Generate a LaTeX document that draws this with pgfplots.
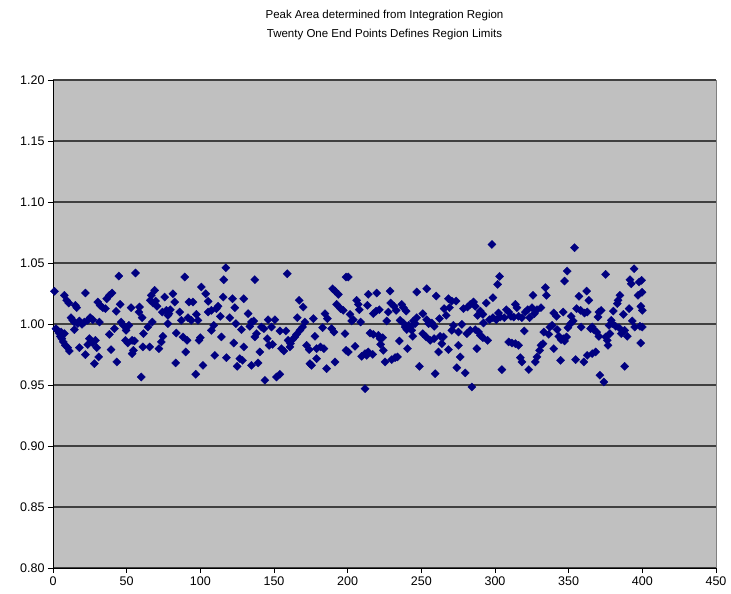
\documentclass[border=0pt]{standalone}
\usepackage{pgfplots}
\pgfplotsset{compat=1.18}
\usepackage{fontspec}
\setmainfont{Liberation Sans}
\definecolor{plotgray}{HTML}{C0C0C0}
\definecolor{navy}{HTML}{000080}
\begin{document}
\begin{tikzpicture}
\begin{axis}[
  at={(0pt,0pt)}, anchor=south west,
  scale only axis, width=663pt, height=488pt,
  xmin=0, xmax=450, ymin=0.8, ymax=1.2,
  xtick={0,50,...,450}, ytick={0.80,0.85,...,1.21},
  axis background/.style={fill=plotgray, draw=gray},
  axis x line*=bottom, axis y line*=left,
  axis line style={black, line width=0.8pt},
  tick align=outside, major tick length=5pt,
  tick style={black, line width=0.8pt},
  ymajorgrids, major grid style={black!75, line width=1.1pt},
  ticklabel style={font=\fontsize{12.5}{15}\selectfont},
  /pgf/number format/assume math mode=true,
  yticklabel style={/pgf/number format/.cd, fixed, fixed zerofill, precision=2},
  xticklabel style={/pgf/number format/.cd, fixed, precision=0},
  clip=false,
]
\addplot[only marks, mark=square*, mark size=2.9pt, color=navy, mark options={fill=navy, draw=navy, rotate=45, line width=0.3pt}] coordinates {
(1,1.0268)(2,0.9962)(3,0.9948)(4,0.9926)(5,0.9899)(6,0.9880)(7,0.9853)(8.4,0.9825)(10,0.9806)(11.1,0.9779)(5.5,0.9934)(7.7,0.9921)(7.7,1.0235)(9.3,1.0194)(10.7,1.0172)(15.2,1.0153)(16.1,1.0134)(12.2,1.0052)(13.4,1.0030)(14.5,1.0016)(16.8,1.0003)(17.9,1.0025)(19.7,0.9997)(21.3,1.0016)(23.6,1.0030)(25.2,1.0052)(27,1.0035)(14.5,0.9954)(22,1.0254)(17.9,0.9806)(22,0.9749)(23.6,0.9831)(24.7,0.9880)(27,0.9844)(28.8,0.9866)(29.7,0.9806)(28.1,0.9675)(31,0.9730)(31.5,1.0016)(30.4,1.0180)(32,1.0153)(33.8,1.0134)(35.6,1.0126)(36.5,1.0207)(38.3,1.0235)(40.1,1.0254)(44.7,1.0393)(56,1.0418)(42.9,1.0104)(45.6,1.0161)(38.3,0.9915)(39.4,0.9790)(43.3,0.9689)(41.7,0.9962)(46.2,1.0016)(47.8,0.9989)(49.6,0.9948)(51.5,0.9989)(49.2,0.9866)(50.8,0.9844)(53.7,0.9866)(55.3,0.9861)(53,1.0134)(58.7,1.0139)(58.3,1.0098)(60.5,1.0052)(54.6,0.9784)(53.7,0.9757)(61,0.9812)(61.4,0.9921)(59.9,0.9566)
(66.7,1.0235)(69,1.0276)(66,1.0194)(67.8,1.0172)(70.6,1.0145)(69.6,1.0188)(75.8,1.0221)(81.4,1.0248)(82.6,1.0180)(74.2,1.0098)(76.9,1.0112)(78.7,1.0085)(79.6,1.0117)(78,1.0071)(86,1.0098)(87.1,1.0030)(91.6,1.0052)(93.9,1.0030)(97.3,1.0079)(98.4,1.0030)(89.4,1.0385)(100.7,1.0303)(103.7,1.0248)(105.3,1.0186)(92.3,1.0180)(95,1.0180)(105.3,1.0098)(107.5,1.0112)(112,1.0145)(110.9,1.0126)(115.5,1.0221)(113.6,1.0063)(120,1.0052)(121.8,1.0207)(123.4,1.0134)(124.1,1.0003)(129.5,1.0207)(127.9,0.9954)(65.6,0.9812)(71.9,0.9798)(73.5,0.9853)(74.6,0.9899)(78,1.0003)(67.4,1.0016)(83.7,0.9926)(88.2,0.9894)(91,0.9866)(90.1,0.9771)(83.3,0.9681)(99.1,0.9866)(100,0.9888)(96.9,0.9588)(101.8,0.9661)(107.5,0.9948)(109.1,0.9989)(109.8,0.9743)(114.3,0.9894)(117.3,1.0461)(115.9,1.0363)(117.7,0.9724)(122.7,0.9844)(126.8,0.9716)(129.5,0.9812)(125,0.9653)(128.6,0.9702)(64.4,0.9975)
(137,1.0363)(159,1.0412)(132.4,1.0085)(134.7,1.0016)(133.6,0.9981)(136.3,1.0025)(141.5,0.9975)(143.1,0.9962)(146,1.0035)(150.6,1.0035)(148.3,0.9975)(138.1,0.9921)(137,0.9894)(145.4,0.9880)(146.7,0.9825)(149,0.9833)(140.4,0.9771)(134.7,0.9661)(139.2,0.9681)(143.8,0.9539)(151.7,0.9566)(154,0.9588)(154,0.9943)(158.1,0.9943)(155.1,0.9798)(156.7,0.9779)(161.2,0.9839)(162.6,0.9872)(164.2,0.9894)(165.3,0.9915)(167.6,0.9948)(169.4,0.9975)(171,1.0016)(159.6,0.9866)(160.8,0.9812)(165.8,1.0052)(167.1,1.0194)(169.8,1.0139)(172.1,0.9825)(173.9,0.9790)(177.8,0.9899)(176.7,1.0044)(178.9,0.9798)(181.6,0.9812)(183.9,0.9798)(183,0.9970)(184.6,1.0085)(186.2,1.0044)(189.1,0.9962)(190.7,0.9934)(189.8,1.0289)(191.4,1.0270)(193.7,1.0243)(192.5,1.0161)(195.2,1.0126)(197,1.0112)(198.9,1.0385)(198.2,0.9921)(198.9,0.9784)(174.4,0.9675)(175.5,0.9661)(178.9,0.9716)(185.7,0.9634)(191.4,0.9689)
(200.4,1.0385)(201.6,1.0079)(202.7,1.0025)(203.8,1.0035)(206.1,1.0194)(207.2,1.0161)(207.9,1.0117)(208.8,1.0016)(205,0.9817)(200.4,0.9771)(214,1.0243)(219.7,1.0254)(213.4,1.0153)(217.4,1.0085)(219.3,1.0106)(221.5,1.0117)(228.8,1.0270)(229.2,1.0172)(231.5,1.0145)(232.9,1.0112)(236.7,1.0161)(237.8,1.0134)(239.7,1.0106)(227.6,1.0098)(226.5,1.0025)(209.5,0.9735)(211.8,0.9757)(214,0.9771)(217,0.9751)(212.9,0.9743)(215.2,0.9926)(217.4,0.9915)(220.8,0.9907)(222,0.9880)(223.8,0.9888)(222.4,0.9833)(224.2,0.9784)(225.4,0.9689)(229.9,0.9708)(232.2,0.9724)(233.8,0.9730)(235.1,0.9861)(240.6,0.9798)(235.6,1.0030)(237.8,1.0008)(239,0.9975)(240.1,0.9954)(241.3,0.9989)(242.4,0.9975)(243.5,0.9948)(244.6,1.0025)(246.9,1.0052)(245.8,1.0003)(244.2,0.9899)(246.9,1.0262)(253.7,1.0289)(260.1,1.0229)(251,1.0085)(253.7,1.0035)(254.9,1.0003)(257.1,1.0008)(258.7,0.9981)(262.3,1.0044)(265.5,1.0126)(266.9,1.0071)(251,0.9921)(253.3,0.9894)(256,0.9866)(258.7,0.9880)(262.8,0.9899)(265,0.9894)(263.9,0.9839)(261.7,0.9771)(248.7,0.9653)(259.4,0.9593)(211.8,0.9470)
(297.9,1.0652)(303.1,1.0390)(301.8,1.0325)(298.6,1.0216)(294.1,1.0172)(290,1.0106)(291.8,1.0079)(288.2,1.0071)(268.4,1.0207)(270.7,1.0188)(273.6,1.0188)(269.1,1.0134)(278.6,1.0126)(281.4,1.0139)(283.2,1.0161)(285.4,1.0180)(286.6,1.0145)(271.8,0.9989)(270.7,0.9948)(277.5,0.9997)(275.2,0.9934)(280.9,0.9921)(283.2,0.9948)(286.6,0.9954)(288.8,0.9934)(290,0.9907)(291.8,0.9888)(295,0.9866)(292.2,1.0008)(296.3,1.0035)(298.6,1.0052)(300.9,1.0035)(302.4,1.0090)(303.6,1.0057)(306.3,1.0052)(307.7,1.0117)(309.3,1.0098)(310.8,1.0063)(312.7,1.0057)(313.8,1.0161)(314.9,1.0134)(316,1.0063)(318.3,1.0052)(320.6,1.0098)(322.2,1.0117)(323.5,1.0052)(325.1,1.0134)(325.8,1.0235)(326.7,1.0085)(328.5,1.0117)(331.2,1.0134)(334.2,1.0298)(334.9,1.0235)(319.9,0.9943)(333.1,0.9934)(268.4,0.9790)(275.2,0.9825)(287.7,0.9798)(276.4,0.9730)(274.1,0.9642)(279.8,0.9599)(284.3,0.9484)(304.7,0.9626)(309.3,0.9853)(311.5,0.9844)(313.8,0.9839)(316,0.9825)(317.2,0.9724)(318.3,0.9689)(322.9,0.9626)(327.4,0.9689)(328.5,0.9730)(330.3,0.9784)(331.2,0.9825)(332.6,0.9839)
(354,1.0625)(349,1.0434)(347.2,1.0352)(357,1.0227)(362.2,1.0270)(363.7,1.0194)(339.9,1.0090)(341.7,1.0063)(346.3,1.0098)(351.7,1.0063)(355.4,1.0126)(358.1,1.0112)(360.8,1.0090)(362.6,1.0098)(370.5,1.0098)(372.1,1.0112)(369.9,1.0057)(380.3,1.0106)(383.5,1.0194)(384.8,1.0235)(383,1.0167)(387.1,1.0079)(391,1.0126)(375.1,1.0407)(394.4,1.0453)(391.6,1.0363)(392.5,1.0330)(397.8,1.0344)(399.5,1.0358)(399.8,1.0260)(397.1,1.0235)(399,1.0145)(400,1.0112)(337.2,0.9975)(338.8,0.9989)(336.5,0.9915)(342.2,0.9954)(349.5,0.9970)(351.3,1.0003)(353.1,1.0025)(358.5,0.9975)(364.9,0.9962)(367.1,0.9954)(369,0.9934)(370.5,0.9899)(366,0.9975)(377.4,0.9989)(379.6,1.0003)(378.9,1.0030)(381.9,0.9981)(384.2,0.9970)(385.7,0.9921)(388,0.9948)(389.8,0.9899)(393.2,1.0025)(394.8,0.9975)(398.4,0.9981)(400,0.9975)(343.3,0.9899)(344.9,0.9872)(346.3,0.9880)(347.2,0.9861)(348.6,0.9894)(339.9,0.9798)(344.5,0.9702)(354.7,0.9708)(360.3,0.9689)(362.6,0.9743)(366,0.9757)(368.3,0.9771)(376.2,0.9866)(376.7,0.9825)(375.1,0.9894)(378,0.9921)(398.9,0.9844)(388,0.9653)(371.2,0.9580)(373.9,0.9525)
};
\node[align=center, font=\fontsize{11.5}{19}\selectfont] at ([yshift=55pt]rel axis cs:0.5,1) {Peak Area determined from Integration Region\\Twenty One End Points Defines Region Limits};
\end{axis}
\useasboundingbox (-53pt,-26pt) rectangle (678pt,568pt);
\end{tikzpicture}
\end{document}
